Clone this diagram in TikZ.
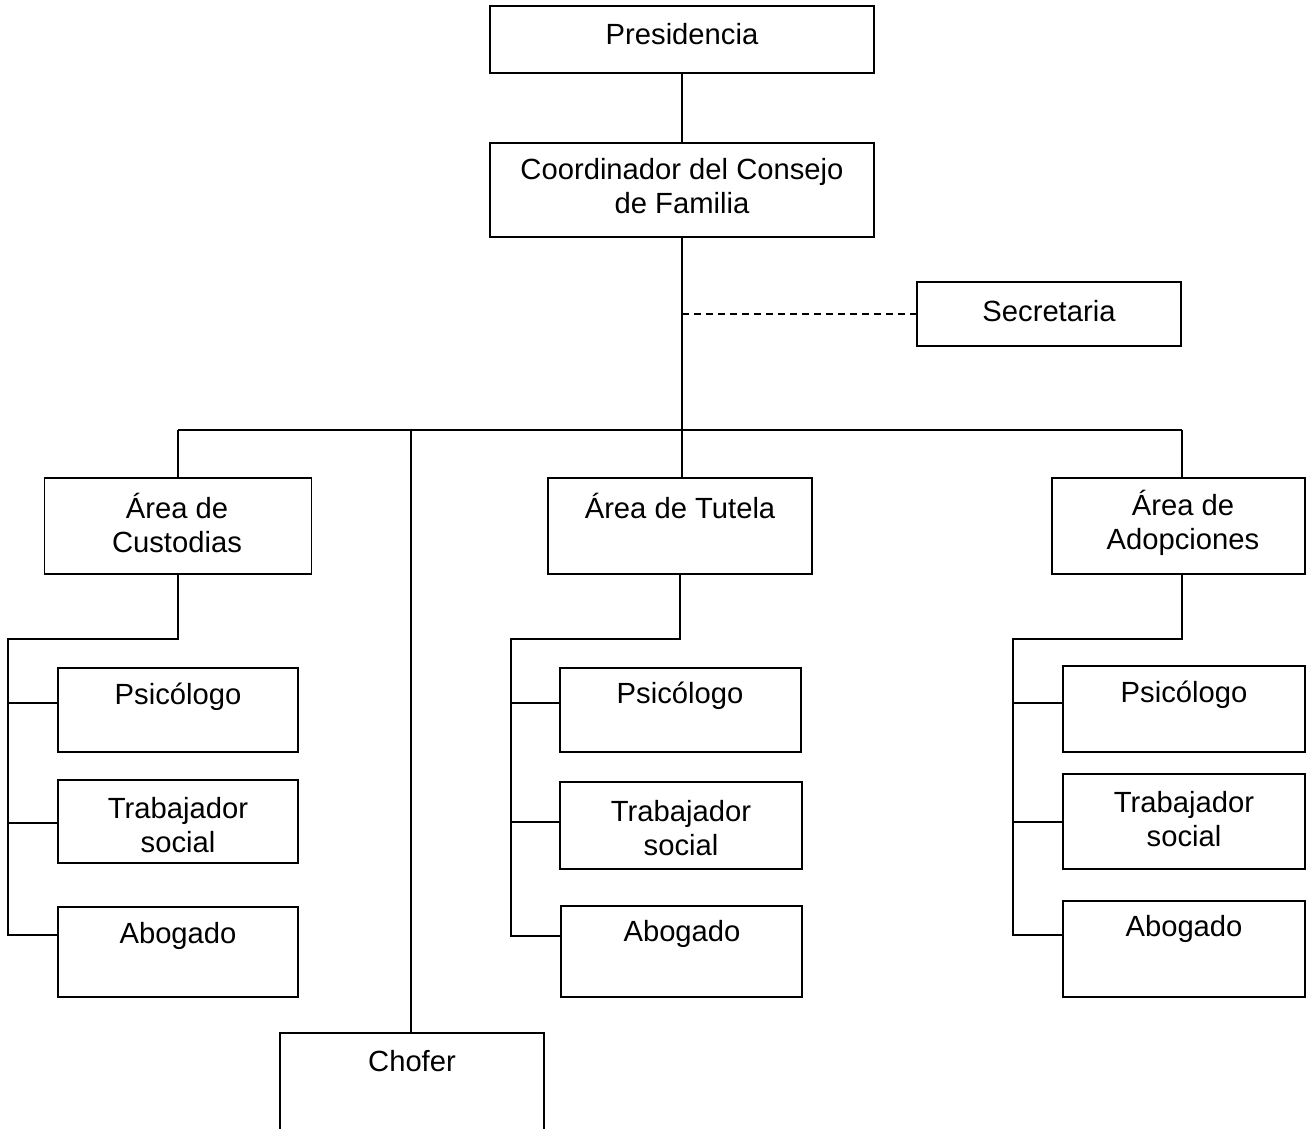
\documentclass[tikz,border=0pt]{standalone}
\usepackage{fontspec}
\setmainfont{Liberation Sans}
\newcommand\orgfs{\fontsize{29.2}{33.5}\selectfont}
\tikzset{
  box/.style={draw, line width=1.9pt, rectangle, inner sep=0pt},
  lbl/.style={font=\orgfs, align=center, inner sep=0pt},
  conn/.style={line width=1.9pt},
  dconn/.style={line width=1.4pt, dashed, dash pattern=on 7pt off 5pt},
}
\begin{document}
\begin{tikzpicture}[x=1pt,y=-1pt]
\useasboundingbox (0,0) rectangle (1306,1128);
% boxes
\node[box, minimum width=384, minimum height=67] (pres) at (682,39.5) {};
\node[box, minimum width=384, minimum height=94] (coord) at (682,190) {};
\node[box, minimum width=264, minimum height=64] (sec) at (1049,314) {};
\node[box, minimum width=267, minimum height=96] (cust) at (178,526) {};
\node[box, minimum width=264, minimum height=96] (tut) at (680,526) {};
\node[box, minimum width=253, minimum height=96] (adop) at (1178.5,526) {};
\node[box, minimum width=240, minimum height=84] (psi1) at (178,710) {};
\node[box, minimum width=240, minimum height=83] (tra1) at (178,821.5) {};
\node[box, minimum width=240, minimum height=90] (abo1) at (178,952) {};
\node[box, minimum width=241, minimum height=84] (psi2) at (680.5,710) {};
\node[box, minimum width=242, minimum height=87] (tra2) at (681,825.5) {};
\node[box, minimum width=241, minimum height=91] (abo2) at (681.5,951.5) {};
\node[box, minimum width=242, minimum height=86] (psi3) at (1184,709) {};
\node[box, minimum width=242, minimum height=95] (tra3) at (1184,821.5) {};
\node[box, minimum width=242, minimum height=96] (abo3) at (1184,949) {};
\node[box, minimum width=264, minimum height=110] (chof) at (412,1088) {};
% texts
\node[lbl] (pres-t) at (682,34) {Presidencia};
\node[lbl] (coord-t) at (682,186) {Coordinador del Consejo\\de Familia};
\node[lbl] (sec-t) at (1049,311) {Secretaria};
\node[lbl] (cust-t) at (177,523) {Área de\\Custodias};
\node[lbl] (tut-t) at (680,506) {Área de Tutela};
\node[lbl] (adop-t) at (1183,523) {Área de\\Adopciones};
\node[lbl] (psi1-t) at (178,697) {Psicólogo};
\node[lbl] (tra1-t) at (178,825) {Trabajador\\social};
\node[lbl] (abo1-t) at (178,936) {Abogado};
\node[lbl] (psi2-t) at (680,696) {Psicólogo};
\node[lbl] (tra2-t) at (681,828) {Trabajador\\social};
\node[lbl] (abo2-t) at (682,934) {Abogado};
\node[lbl] (psi3-t) at (1184,695) {Psicólogo};
\node[lbl] (tra3-t) at (1184,819) {Trabajador\\social};
\node[lbl] (abo3-t) at (1184,929) {Abogado};
\node[lbl] (chof-t) at (412,1061) {Chofer};
% top connectors
\draw[conn] (pres.south) -- (coord.north);
\draw[conn] (coord.south) -- (coord.south |- tut.north);
\draw[dconn] (coord.south |- sec.west) -- (sec.west);
\coordinate (busL) at (178,430);
\coordinate (busR) at (1182,430);
\coordinate (busC) at (411,430);
\draw[conn] (busL) -- (busR);
\draw[conn] (busL) -- (busL |- cust.north);
\draw[conn] (busR) -- (busR |- adop.north);
\draw[conn] (busC) -- (busC |- chof.north);
% Custodias branch
\coordinate (s1) at (8,639);
\coordinate (b1a) at (8,703);
\coordinate (b1b) at (8,823);
\coordinate (b1c) at (8,935);
\draw[conn] (cust.south) |- (s1) -- (b1c) -- (b1c -| abo1.west);
\draw[conn] (b1a) -- (b1a -| psi1.west);
\draw[conn] (b1b) -- (b1b -| tra1.west);
% Tutela branch
\coordinate (s2) at (511,639);
\coordinate (b2a) at (511,703);
\coordinate (b2b) at (511,822);
\coordinate (b2c) at (511,936);
\draw[conn] (tut.south) |- (s2) -- (b2c) -- (b2c -| abo2.west);
\draw[conn] (b2a) -- (b2a -| psi2.west);
\draw[conn] (b2b) -- (b2b -| tra2.west);
% Adopciones branch
\coordinate (s3) at (1013,639);
\coordinate (b3a) at (1013,703);
\coordinate (b3b) at (1013,822);
\coordinate (b3c) at (1013,935);
\coordinate (adopS) at (1182,574);
\draw[conn] (adopS) |- (s3) -- (b3c) -- (b3c -| abo3.west);
\draw[conn] (b3a) -- (b3a -| psi3.west);
\draw[conn] (b3b) -- (b3b -| tra3.west);
\end{tikzpicture}
\end{document}
